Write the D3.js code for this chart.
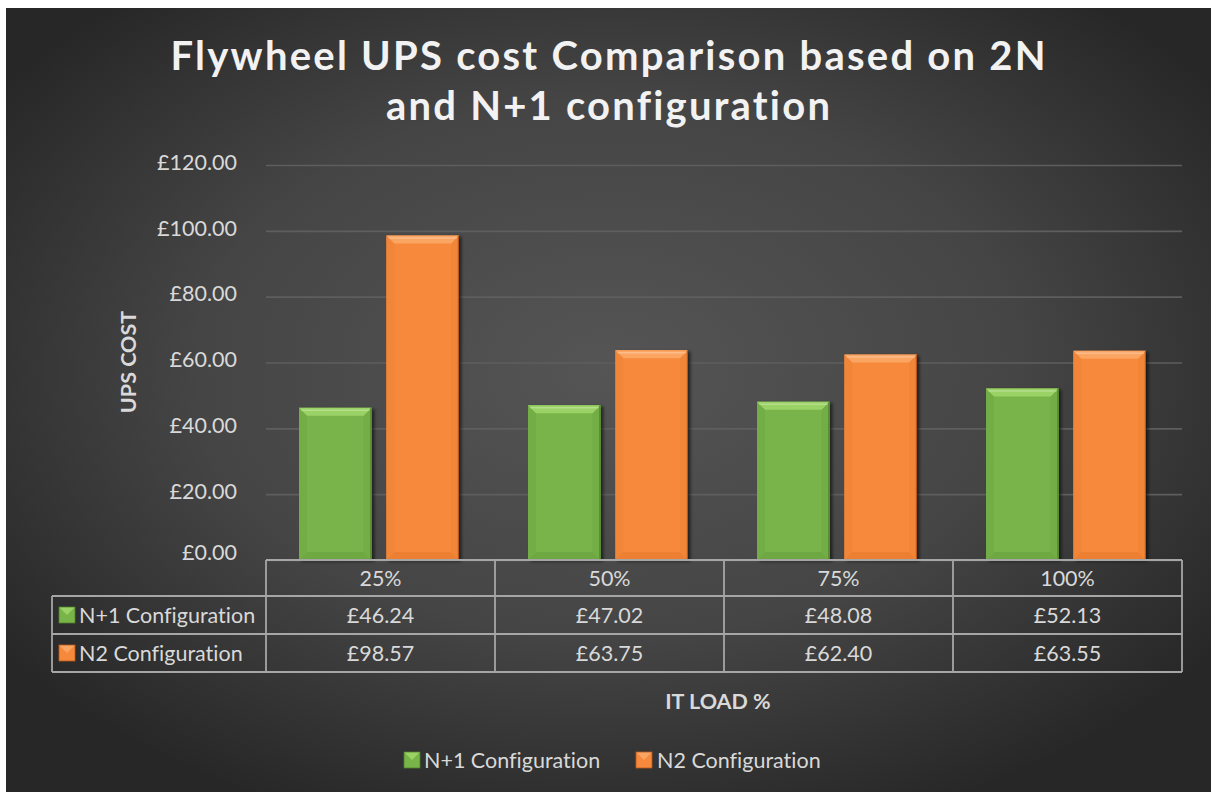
<!DOCTYPE html>
<html>
<head>
<meta charset="utf-8">
<script src="https://cdn.jsdelivr.net/npm/d3@7"></script>
<style>
  html, body { margin: 0; padding: 0; background: #ffffff; }
  svg { display: block; }
  text { font-family: Lato, "Open Sans", sans-serif; font-variant-ligatures: none; font-feature-settings: "liga" 0, "clig" 0; }
</style>
</head>
<body>
<svg id="chart" width="1216" height="792"></svg>
<script>
// Chart data
const categories = ["25%", "50%", "75%", "100%"];
const seriesNames = ["N+1 Configuration", "N2 Configuration"];
const nPlusOne = [46.24, 47.02, 48.08, 52.13];
const n2 = [98.57, 63.75, 62.40, 63.55];
const yTicks = [0, 20, 40, 60, 80, 100, 120];
const titleLines = ["Flywheel UPS cost Comparison based on 2N", "and N+1 configuration"];
const yAxisTitle = "UPS COST";
const xAxisTitle = "IT LOAD %";

const seriesValues = [nPlusOne, n2];
const palette = {
  "N+1 Configuration": { base: "#78b448", top: "#9bd266", side: "#73ad45", bottom: "#6ea842", edge: "#4f7f2c" },
  "N2 Configuration":  { base: "#f6893b", top: "#fba564", side: "#f18538", bottom: "#ec7f33", edge: "#b9591c" }
};

const svg = d3.select("#chart");
const defs = svg.append("defs");

// Dark radial background
const bg = defs.append("radialGradient").attr("id", "bgGrad")
  .attr("cx", "50%").attr("cy", "46%").attr("r", "62%");
bg.append("stop").attr("offset", "0%").attr("stop-color", "#555555");
bg.append("stop").attr("offset", "55%").attr("stop-color", "#454545");
bg.append("stop").attr("offset", "100%").attr("stop-color", "#272727");

const shadow = defs.append("filter").attr("id", "barShadow")
  .attr("x", "-20%").attr("y", "-10%").attr("width", "150%").attr("height", "130%");
shadow.append("feDropShadow").attr("dx", 2.5).attr("dy", 1.5)
  .attr("stdDeviation", 1.6).attr("flood-color", "#000").attr("flood-opacity", 0.55);

svg.append("rect").attr("x", 6).attr("y", 8).attr("width", 1205).attr("height", 784)
  .attr("fill", "url(#bgGrad)");

// Plot area
const plot = { left: 266, right: 1182, top: 165, bottom: 560 };

const y = d3.scaleLinear().domain([0, 120]).range([plot.bottom, plot.top]);
const x0 = d3.scaleBand().domain(categories).range([plot.left, plot.right]).padding(0);
const x1 = d3.scaleBand().domain(seriesNames)
  .range([33, x0.bandwidth() - 36]).paddingInner(0.17);

// Gridlines
const grid = svg.append("g").attr("transform", `translate(${plot.left},0)`)
  .call(d3.axisLeft(y).tickValues(yTicks).tickSize(-(plot.right - plot.left)).tickFormat(""));
grid.select(".domain").remove();
grid.selectAll("line").attr("stroke", "#5e5e5e").attr("stroke-width", 1.6);

// Y axis labels
const yAxis = svg.append("g").attr("transform", `translate(237,0)`)
  .call(d3.axisLeft(y).tickValues(yTicks).tickSize(0).tickPadding(0)
    .tickFormat(d => "£" + d3.format(".2f")(d)));
yAxis.select(".domain").remove();
yAxis.selectAll("text")
  .attr("fill", "#d9d9d9").attr("font-size", 21.5).attr("font-family", "Lato, sans-serif")
  .attr("dy", "0.2em");
yAxis.selectAll(".tick").filter(d => d === 0).select("text").attr("dy", "-0.02em");

// Bars with bevelled edges
const bars = svg.append("g").attr("filter", "url(#barShadow)");
seriesNames.forEach((name, si) => {
  const c = palette[name];
  categories.forEach((cat, ci) => {
    const v = seriesValues[si][ci];
    const bx = x0(cat) + x1(name);
    const bw = x1.bandwidth();
    const by = y(v);
    const bh = y(0) - by;
    const b = 8;
    const g = bars.append("g");
    g.append("rect").attr("x", bx).attr("y", by).attr("width", bw).attr("height", bh)
      .attr("fill", c.base);
    const poly = (pts, fill) => g.append("polygon")
      .attr("points", pts.map(p => p.join(",")).join(" ")).attr("fill", fill);
    poly([[bx, by], [bx + b, by + b], [bx + b, by + bh - b], [bx, by + bh]], c.side);
    poly([[bx + bw, by], [bx + bw - b, by + b], [bx + bw - b, by + bh - b], [bx + bw, by + bh]], c.side);
    poly([[bx, by + bh], [bx + b, by + bh - b], [bx + bw - b, by + bh - b], [bx + bw, by + bh]], c.bottom);
    poly([[bx, by], [bx + bw, by], [bx + bw - b, by + b], [bx + b, by + b]], c.top);
    g.append("line").attr("x1", bx + 2).attr("x2", bx + bw - 2).attr("y1", by + 2.5).attr("y2", by + 2.5)
      .attr("stroke", "#ffffff").attr("stroke-opacity", 0.25).attr("stroke-width", 1.5);
    g.append("rect").attr("x", bx + bw - 1.2).attr("y", by).attr("width", 1.2).attr("height", bh)
      .attr("fill", c.edge);
  });
});

// Data table
const rowLines = [560, 596, 634, 672];
const labelLeft = 52;
const tableStroke = "#a6a6a6";
const table = svg.append("g").attr("stroke", tableStroke).attr("stroke-width", 1.8);
table.append("line").attr("x1", plot.left).attr("x2", plot.right).attr("y1", rowLines[0]).attr("y2", rowLines[0]);
rowLines.slice(1).forEach(ry => {
  table.append("line").attr("x1", labelLeft).attr("x2", plot.right).attr("y1", ry).attr("y2", ry);
});
const colEdges = categories.map(c => x0(c)).concat([plot.right]);
colEdges.forEach(cx => {
  table.append("line").attr("x1", cx).attr("x2", cx).attr("y1", rowLines[0]).attr("y2", rowLines[3]);
});
table.append("line").attr("x1", labelLeft).attr("x2", labelLeft).attr("y1", rowLines[1]).attr("y2", rowLines[3]);

const textFill = "#d9d9d9";
const fs = 21.5;
categories.forEach(cat => {
  svg.append("text").attr("x", x0(cat) + x0.bandwidth() / 2).attr("y", (rowLines[0] + rowLines[1]) / 2 + 7.5)
    .attr("text-anchor", "middle").attr("fill", textFill).attr("font-size", fs).text(cat);
});

// Bevelled legend key
function legendKey(g, kx, ky, name) {
  const c = palette[name];
  const s = 16;
  g.append("rect").attr("x", kx).attr("y", ky).attr("width", s).attr("height", s).attr("fill", c.base);
  g.append("polygon").attr("points", [[kx, ky], [kx + s, ky], [kx + s / 2, ky + s / 2]].map(p => p.join(",")).join(" "))
    .attr("fill", c.top);
  g.append("rect").attr("x", kx).attr("y", ky).attr("width", s).attr("height", s)
    .attr("fill", "none").attr("stroke", c.edge).attr("stroke-width", 0.8);
}

seriesNames.forEach((name, si) => {
  const rowMid = (rowLines[si + 1] + rowLines[si + 2]) / 2;
  legendKey(svg, 59, rowMid - 8, name);
  svg.append("text").attr("x", 79).attr("y", rowMid + 7.5)
    .attr("fill", textFill).attr("font-size", fs).text(name);
  categories.forEach((cat, ci) => {
    svg.append("text").attr("x", x0(cat) + x0.bandwidth() / 2).attr("y", rowMid + 7.5)
      .attr("text-anchor", "middle").attr("fill", textFill).attr("font-size", fs)
      .text("£" + d3.format(".2f")(seriesValues[si][ci]));
  });
});

// Axis titles
svg.append("text").attr("transform", "translate(136,362) rotate(-90)")
  .attr("text-anchor", "middle").attr("fill", textFill).attr("font-size", 21.5)
  .attr("font-weight", "bold").text(yAxisTitle);
svg.append("text").attr("x", 718).attr("y", 709)
  .attr("text-anchor", "middle").attr("fill", textFill).attr("font-size", 21.5)
  .attr("font-weight", "bold").text(xAxisTitle);

// Chart title
const titleWidths = [875, 444];
const titleBase = [70, 120];
titleLines.forEach((line, i) => {
  svg.append("text").attr("x", 608 - titleWidths[i] / 2).attr("y", titleBase[i])
    .attr("fill", "#f2f2f2").attr("font-size", 40).attr("font-weight", "bold")
    .attr("textLength", titleWidths[i]).attr("lengthAdjust", "spacing")
    .text(line);
});

// Bottom legend
const legendItems = [{ name: seriesNames[0], kx: 404, tx: 424 }, { name: seriesNames[1], kx: 636, tx: 657 }];
legendItems.forEach(it => {
  legendKey(svg, it.kx, 752, it.name);
  svg.append("text").attr("x", it.tx).attr("y", 768)
    .attr("fill", textFill).attr("font-size", fs).text(it.name);
});
</script>
</body>
</html>
